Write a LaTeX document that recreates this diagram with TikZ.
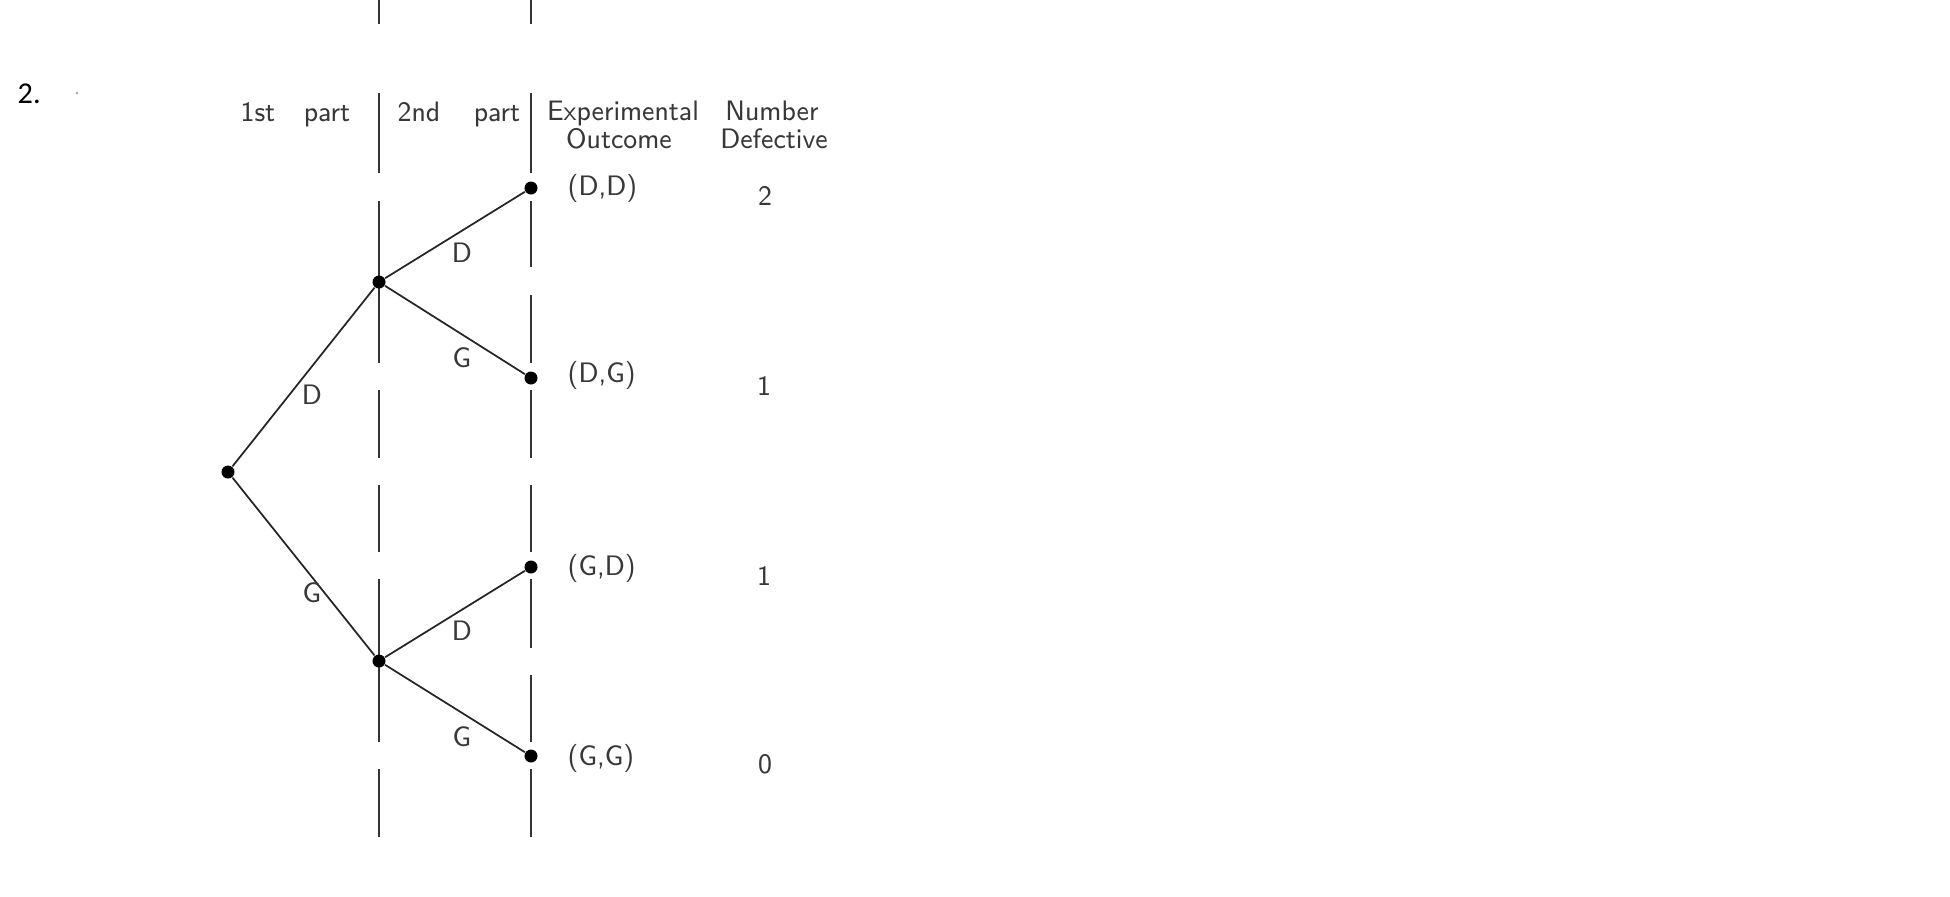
\documentclass[tikz,border=0pt]{standalone}
\usepackage{fontspec}
\setsansfont{Latin Modern Sans}[FakeStretch=0.93]
\newfontfamily\numfont{Carlito}
\tikzset{
  dot/.style={circle,fill=black,inner sep=0pt,minimum size=0.13cm},
  lbl/.style={font=\fontsize{8}{9.6}\selectfont\sffamily,text=black!78,inner sep=0pt},
  branch/.style={draw=black!85,line width=0.5pt},
  guide/.style={draw=black!80,line width=0.65pt},
}
\begin{document}
\begin{tikzpicture}[x=0.01cm,y=-0.01cm]
\useasboundingbox (0,0) rectangle (1950,896);
% item number
\node[anchor=base west,inner sep=0pt,font=\fontsize{8.6}{10}\selectfont\numfont] (num) at (17,103) {2.};
\fill[black!45] (77,93) circle (1.1);
% guide lines
\foreach \a/\b in {0/24,93/173,201/363,390/458,485/552,579/742,769/837}
  \draw[guide] (379,\a) -- (379,\b);
\foreach \a/\b in {0/24,93/173,201/267,295/363,390/458,485/552,579/648,675/742,769/837}
  \draw[guide] (531,\a) -- (531,\b);
% headers
\node[lbl,anchor=base] (h1a) at (258,121) {1st};
\node[lbl,anchor=base] (h1b) at (327,121) {part};
\node[lbl,anchor=base] (h2a) at (419,121) {2nd};
\node[lbl,anchor=base] (h2b) at (497,121) {part};
\node[lbl,anchor=base] (h3a) at (623,120) {Experimental};
\node[lbl,anchor=base] (h3b) at (619,148) {Outcome};
\node[lbl,anchor=base] (h4a) at (772,120) {Number};
\node[lbl,anchor=base] (h4b) at (774,148) {Defective};
% tree nodes
\node[dot] (R) at (228,472) {};
\node[dot] (M1) at (379,282) {};
\node[dot] (M2) at (379,661) {};
\node[dot] (L1) at (531,188) {};
\node[dot] (L2) at (531,378) {};
\node[dot] (L3) at (531,567) {};
\node[dot] (L4) at (531,756) {};
% branches
\draw[branch] (R) -- (M1);
\draw[branch] (R) -- (M2);
\draw[branch] (M1) -- (L1);
\draw[branch] (M1) -- (L2);
\draw[branch] (M2) -- (L3);
\draw[branch] (M2) -- (L4);
% branch labels
\node[lbl] (bD1) at (312,395) {D};
\node[lbl] (bG1) at (312,593) {G};
\node[lbl] (bD2) at (462,253) {D};
\node[lbl] (bG2) at (462,358) {G};
\node[lbl] (bD3) at (462,631) {D};
\node[lbl] (bG3) at (462,737) {G};
% outcomes
\node[lbl,anchor=base west] (o1) at (567,195) {(D,D)};
\node[lbl,anchor=base west] (o2) at (567,382) {(D,G)};
\node[lbl,anchor=base west] (o3) at (567,575) {(G,D)};
\node[lbl,anchor=base west] (o4) at (567,765) {(G,G)};
% number defective
\node[lbl,anchor=base] (n1) at (765,205) {2};
\node[lbl,anchor=base] (n2) at (764,395) {1};
\node[lbl,anchor=base] (n3) at (764,585) {1};
\node[lbl,anchor=base] (n4) at (765,773) {0};
\end{tikzpicture}
\end{document}
